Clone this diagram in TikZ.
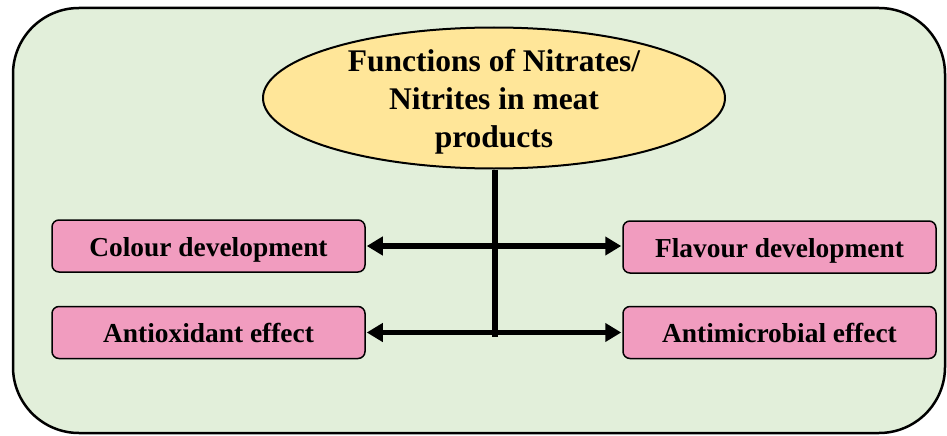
\documentclass[tikz,border=0pt]{standalone}
\usepackage{fontspec}
\setmainfont{Liberation Serif}
\usetikzlibrary{shapes.geometric,arrows.meta}
\definecolor{bggreen}{HTML}{E2EFDA}
\definecolor{ellyellow}{HTML}{FFE699}
\definecolor{boxpink}{HTML}{F19CBF}
\tikzset{
  fbox/.style={draw=black, line width=1.5pt, fill=boxpink, rounded corners=7pt,
    minimum width=313pt, minimum height=52pt, inner sep=0pt, text height=20pt, text depth=0pt,
    font=\fontsize{27.4}{30}\selectfont\bfseries},
  conn/.style={line width=5.5pt},
  biarrow/.style={line width=5.5pt, {Triangle[length=16pt,width=18pt]}-{Triangle[length=16pt,width=18pt]}, shorten <=1pt, shorten >=1pt},
}
\begin{document}
\begin{tikzpicture}[x=1pt,y=-1pt]
\useasboundingbox (0,0) rectangle (947,436);
\draw[line width=2.5pt, fill=bggreen, rounded corners=66pt] (13,8) rectangle (945,433);
\node[ellipse, draw=black, line width=2pt, fill=ellyellow, minimum width=462pt, minimum height=141pt, inner sep=0pt] (top) at (494,98) {};
\node[align=center, inner sep=0pt, font=\fontsize{31.5}{38}\selectfont\bfseries, yshift=-4pt] (toptext) at (top.center)
  {Functions of Nitrates/\\Nitrites in meat\\products};
\node[fbox] (colour) at (208.5,246) {Colour development};
\node[fbox] (anti) at (208.5,332.5) {Antioxidant effect};
\node[fbox] (flav) at (779.5,247) {Flavour development};
\node[fbox] (micro) at (779.5,332.5) {Antimicrobial effect};
\coordinate (vbot) at (495,337);
\draw[conn] (top.south -| vbot) -- (vbot);
\draw[biarrow] (colour.east) -- (flav.west |- colour.east);
\draw[biarrow] (anti.east) -- (micro.west |- anti.east);
\end{tikzpicture}
\end{document}
